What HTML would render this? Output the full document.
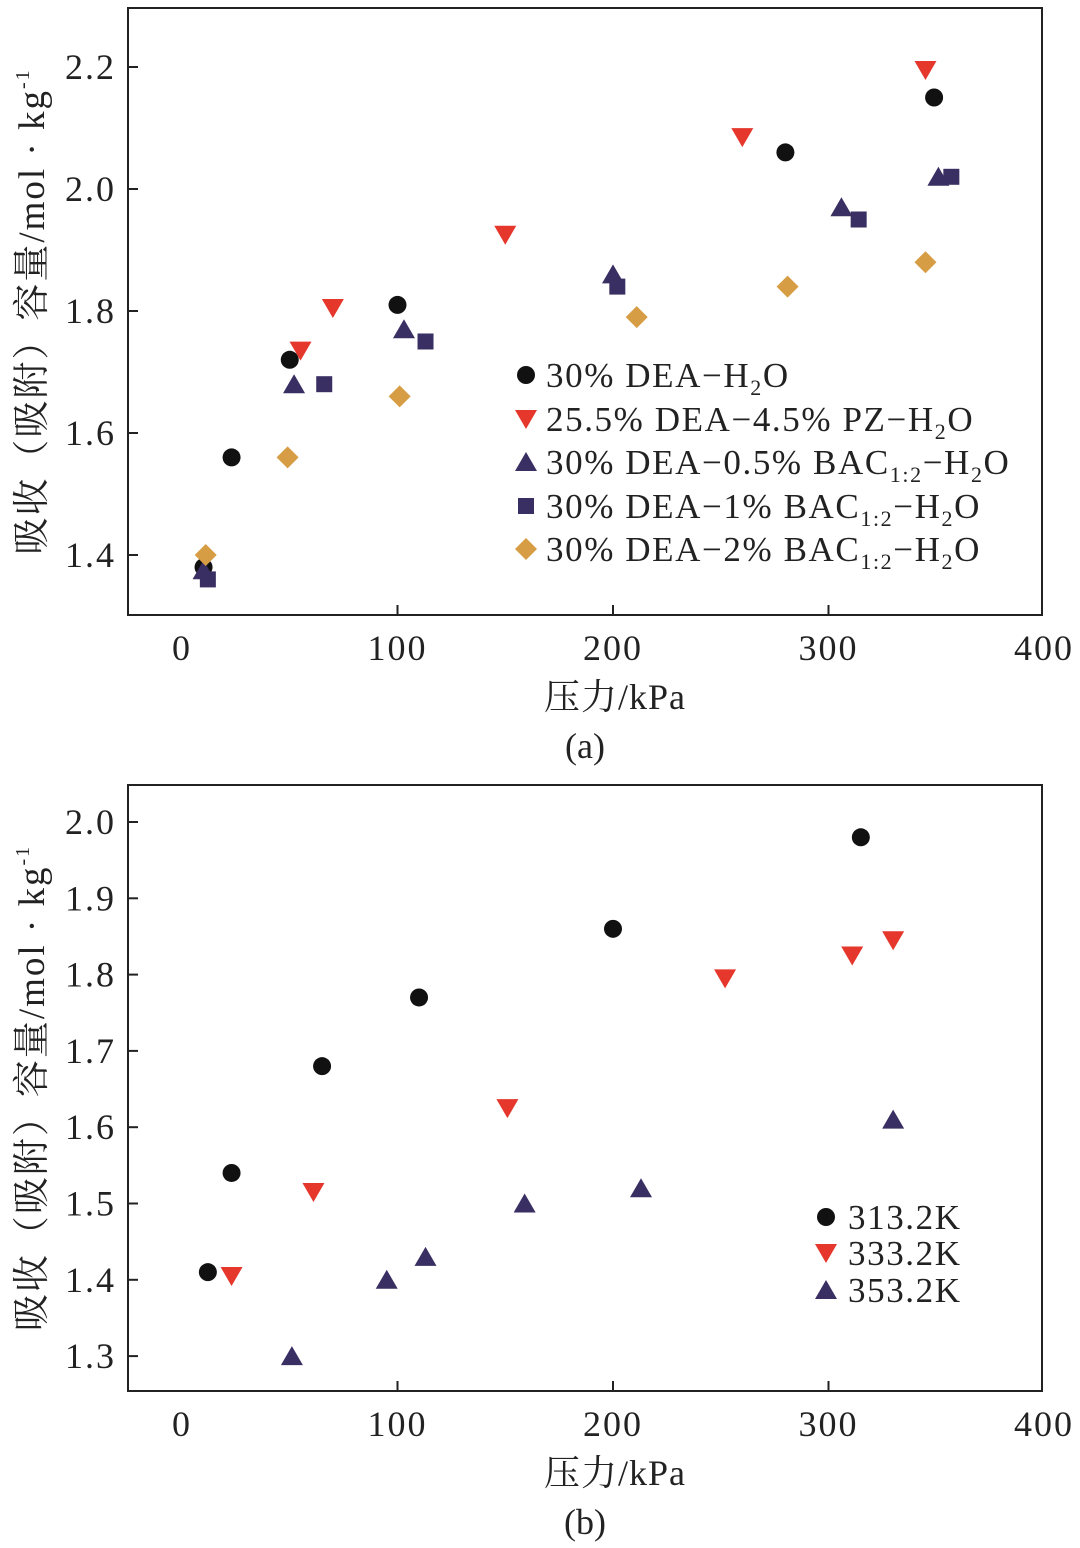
<!DOCTYPE html>
<html><head><meta charset="utf-8"><style>
html,body{margin:0;padding:0;background:#fff;}
svg{display:block;font-family:"Liberation Serif","Noto Serif CJK SC",serif;}
</style></head><body>
<svg id="fig" width="1080" height="1548" viewBox="0 0 1080 1548" xmlns="http://www.w3.org/2000/svg"></svg>
<script>
// Chart (a) data
const aSeriesNames = ["30% DEA-H2O","25.5% DEA-4.5% PZ-H2O","30% DEA-0.5% BAC-H2O","30% DEA-1% BAC-H2O","30% DEA-2% BAC-H2O"];
const aCircleX = [10,23,50,100,280,349];
const aCircleY = [1.38,1.56,1.72,1.81,2.06,2.15];
const aRedX = [55,70,150,260,345];
const aRedY = [1.735,1.805,1.925,2.085,2.195];
const aNavyX = [10,52,103,200,306,351];
const aNavyY = [1.375,1.68,1.77,1.86,1.97,2.02];
const aSquareX = [12,66,113,202,314,357];
const aSquareY = [1.36,1.68,1.75,1.84,1.95,2.02];
const aDiamondX = [11,49,101,211,281,345];
const aDiamondY = [1.40,1.56,1.66,1.79,1.84,1.88];
const aYTicks = [1.4,1.6,1.8,2.0,2.2];
const xTicks = [0,100,200,300,400];
// Chart (b) data
const bCircleX = [12,23,65,110,200,315];
const bCircleY = [1.41,1.54,1.68,1.77,1.86,1.98];
const bRedX = [23,61,151,252,311,330];
const bRedY = [1.405,1.515,1.625,1.795,1.825,1.845];
const bNavyX = [51,95,113,159,213,330];
const bNavyY = [1.30,1.40,1.43,1.50,1.52,1.61];
const bYTicks = [1.3,1.4,1.5,1.6,1.7,1.8,1.9,2.0];

const NS="http://www.w3.org/2000/svg";
const svg=document.getElementById('fig');
function mk(tag,attrs,parent){const e=document.createElementNS(NS,tag);for(const k in attrs)e.setAttribute(k,attrs[k]);(parent||svg).appendChild(e);return e;}
const RED="#e5372b",NAVY="#3a2f62",GOLD="#d69d45",BLK="#111";

function marker(type,cx,cy,g){
  let e;
  if(type==='circle'){e=mk('circle',{cx:cx,cy:cy,r:9,fill:BLK},g);}
  else if(type==='down'){e=mk('polygon',{points:`${cx-11},${cy-9} ${cx+11},${cy-9} ${cx},${cy+10}`,fill:RED},g);}
  else if(type==='up'){e=mk('polygon',{points:`${cx-11},${cy+9} ${cx+11},${cy+9} ${cx},${cy-10}`,fill:NAVY},g);}
  else if(type==='square'){e=mk('rect',{x:cx-8,y:cy-8,width:16,height:16,fill:NAVY},g);}
  else {e=mk('polygon',{points:`${cx},${cy-11} ${cx+11},${cy} ${cx},${cy+11} ${cx-11},${cy}`,fill:GOLD},g);}
  return e;
}

function axes(box,yTicks,name,label){
  const g=mk('g',{});
  
  
  const sx=v=>box.x0+v*box.kx;
  const sy=v=>box.yRef+(box.vRef-v)*box.ky;
  mk('rect',{x:box.l,y:box.t,width:box.r-box.l,height:box.b-box.t,fill:'none',stroke:'#222','stroke-width':2},g);
  xTicks.forEach(v=>{
    const x=sx(v);
    if(v>0&&v<400) mk('line',{x1:x,x2:x,y1:box.b,y2:box.b-10,stroke:'#222','stroke-width':2},g);
    const t=mk('text',{x:x,y:box.b+45,'font-size':36,'letter-spacing':2,'text-anchor':'middle',fill:'#222'},g);t.textContent=v;
    
    
  });
  yTicks.forEach(v=>{
    const y=sy(v);
    mk('line',{x1:box.l,x2:box.l+10,y1:y,y2:y,stroke:'#222','stroke-width':2},g);
    const t=mk('text',{x:box.l-12,y:y+12,'font-size':36,'letter-spacing':2,'text-anchor':'end',fill:'#222'},g);t.textContent=v.toFixed(1);
    
    
  });
  const xt=mk('text',{x:615,y:box.b+94,'font-size':36,'letter-spacing':1,'text-anchor':'middle',fill:'#222'},g);xt.textContent='压力/kPa';
  
  
  const pl=mk('text',{x:585,y:box.b+143,'font-size':36,'text-anchor':'middle',fill:'#222'},g);pl.textContent=label;
  
  
  const cy=(box.t+box.b)/2;
  const yt=mk('text',{x:0,y:0,'font-size':37,'letter-spacing':2,'text-anchor':'middle',fill:'#222',transform:`translate(44,${cy}) rotate(-90)`},g);
  yt.innerHTML='吸收（吸附）容量/mol · kg<tspan dy="-15" font-size="20">-1</tspan>';
  
  
  return {g,sx,sy};
}

function series(ax,type,xs,ys,name){
  const g=mk('g',{},ax.g);
  
  
  xs.forEach((v,i)=>{const m=marker(type,ax.sx(v),ax.sy(ys[i]),g);
    
    });
}

function legend(parent,mx,tx,rows,items){
  const g=mk('g',{},parent);
  
  
  items.forEach((it,i)=>{
    const y=rows[i];
    marker(it[0],mx,y,g);
    const t=mk('text',{x:tx,y:y+12,'font-size':35,'letter-spacing':1.6,fill:'#222'},g);
    t.innerHTML=it[1];
    
    
  });
}

const S=s=>'<tspan dy="8" font-size="22">'+s+'</tspan><tspan dy="-8">';
const E='</tspan>';

// (a)
const A=axes({l:128,r:1042,t:8,b:615,x0:182,kx:2.155,yRef:555,vRef:1.4,ky:610},aYTicks,'chart-a','(a)');
series(A,'circle',aCircleX,aCircleY,'series-30-dea');
series(A,'down',aRedX,aRedY,'series-dea-pz');
series(A,'up',aNavyX,aNavyY,'series-bac-05');
series(A,'square',aSquareX,aSquareY,'series-bac-1');
series(A,'diamond',aDiamondX,aDiamondY,'series-bac-2');
legend(A.g,526,546,[375,419,462,506,549],[
 ['circle','30% DEA−H'+S('2')+'O'+E],
 ['down','25.5% DEA−4.5% PZ−H'+S('2')+'O'+E],
 ['up','30% DEA−0.5% BAC'+S('1:2')+'−H'+E+S('2')+'O'+E],
 ['square','30% DEA−1% BAC'+S('1:2')+'−H'+E+S('2')+'O'+E],
 ['diamond','30% DEA−2% BAC'+S('1:2')+'−H'+E+S('2')+'O'+E]
]);

// (b)
const B=axes({l:128,r:1042,t:785,b:1391,x0:182,kx:2.155,yRef:822,vRef:2.0,ky:763},bYTicks,'chart-b','(b)');
series(B,'circle',bCircleX,bCircleY,'series-313k');
series(B,'down',bRedX,bRedY,'series-333k');
series(B,'up',bNavyX,bNavyY,'series-353k');
legend(B.g,826,848,[1217,1253,1290],[['circle','313.2K'],['down','333.2K'],['up','353.2K']]);
</script>
</body></html>
